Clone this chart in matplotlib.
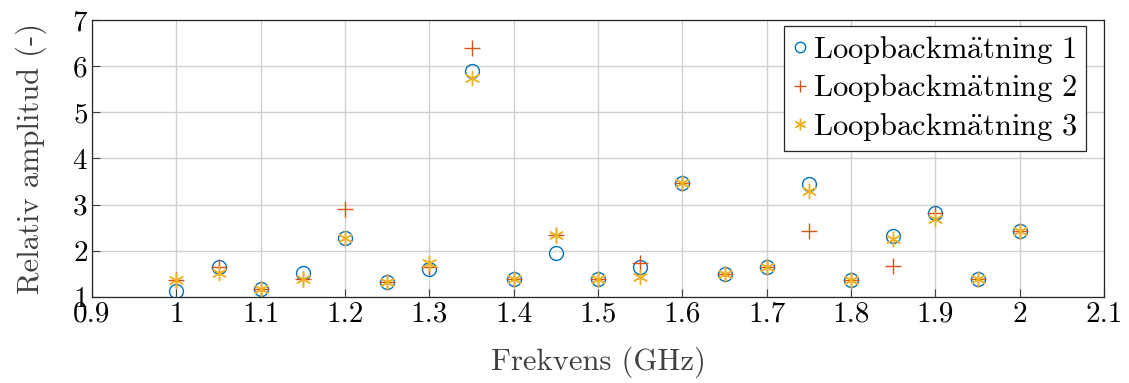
import matplotlib

matplotlib.use("Agg")
import matplotlib.pyplot as plt

# Loopback measurements: relative amplitude per frequency (GHz)
freq = [1.00, 1.05, 1.10, 1.15, 1.20, 1.25, 1.30, 1.35, 1.40, 1.45, 1.50,
        1.55, 1.60, 1.65, 1.70, 1.75, 1.80, 1.85, 1.90, 1.95, 2.00]
meas1 = [1.12, 1.66, 1.17, 1.51, 2.27, 1.33, 1.61, 5.90, 1.40, 1.95, 1.40,
         1.66, 3.47, 1.50, 1.66, 3.45, 1.37, 2.32, 2.81, 1.40, 2.43]
meas2 = [1.37, 1.66, 1.17, 1.40, 2.90, 1.33, 1.65, 6.40, 1.40, 2.35, 1.40,
         1.73, 3.47, 1.50, 1.65, 2.43, 1.37, 1.68, 2.81, 1.40, 2.43]
meas3 = [1.37, 1.53, 1.17, 1.40, 2.27, 1.33, 1.73, 5.75, 1.40, 2.35, 1.40,
         1.44, 3.47, 1.50, 1.65, 3.30, 1.37, 2.26, 2.70, 1.40, 2.43]
# cmr10 has no precomposed "ä", so the umlaut goes through mathtext
labels = [r"Loopbackm$\mathrm{\ddot{a}}$tning 1",
          r"Loopbackm$\mathrm{\ddot{a}}$tning 2",
          r"Loopbackm$\mathrm{\ddot{a}}$tning 3"]

x_ticks = [0.9, 1.0, 1.1, 1.2, 1.3, 1.4, 1.5, 1.6, 1.7, 1.8, 1.9, 2.0, 2.1]
x_ticklabels = ["0.9", "1", "1.1", "1.2", "1.3", "1.4", "1.5", "1.6", "1.7",
                "1.8", "1.9", "2", "2.1"]
y_ticks = [1, 2, 3, 4, 5, 6, 7]

plt.rcParams["font.family"] = ["cmr10", "DejaVu Serif"]
plt.rcParams["mathtext.fontset"] = "cm"
plt.rcParams["axes.formatter.use_mathtext"] = True

fig = plt.figure(figsize=(11.29, 3.83), dpi=100)
ax = fig.add_axes([0.0815, 0.2245, 0.8965, 0.7235])

ax.plot(freq, meas1, linestyle="none", marker="o", markersize=10,
        markerfacecolor="none", markeredgecolor="#0072BD", markeredgewidth=1.0,
        label=labels[0])
ax.plot(freq, meas2, linestyle="none", marker="+", markersize=11,
        color="#D95319", markeredgewidth=1.0, label=labels[1])
ax.plot(freq, meas3, linestyle="none", marker=(6, 2, 0), markersize=11,
        color="#EDB120", markeredgewidth=1.0, label=labels[2])

ax.set_xlim(0.9, 2.1)
ax.set_ylim(1, 7)
ax.set_xticks(x_ticks)
ax.set_xticklabels(x_ticklabels)
ax.set_yticks(y_ticks)
ax.grid(True, color="#d0d0d0", linewidth=1.0)
ax.set_axisbelow(True)
ax.tick_params(direction="in", length=6, width=0.8, color="#404040",
               labelsize=21, top=False, right=False, pad=3)
for sp in ax.spines.values():
    sp.set_color("#262626")
    sp.set_linewidth(0.9)

ax.set_xlabel("Frekvens (GHz)", fontsize=22, color="#404040", labelpad=14)
ax.set_ylabel("Relativ amplitud (-)", fontsize=22, color="#404040", labelpad=18)

leg = ax.legend(loc="upper right", bbox_to_anchor=(0.982, 0.978), fontsize=22,
                frameon=True, fancybox=False, edgecolor="#262626",
                framealpha=1.0, handlelength=0.5, handletextpad=0.2,
                borderpad=0.25, labelspacing=0.22, markerscale=0.75,
                borderaxespad=0.0)
leg.get_frame().set_linewidth(0.9)

fig.savefig("out.png", dpi=100)
plt.close(fig)
